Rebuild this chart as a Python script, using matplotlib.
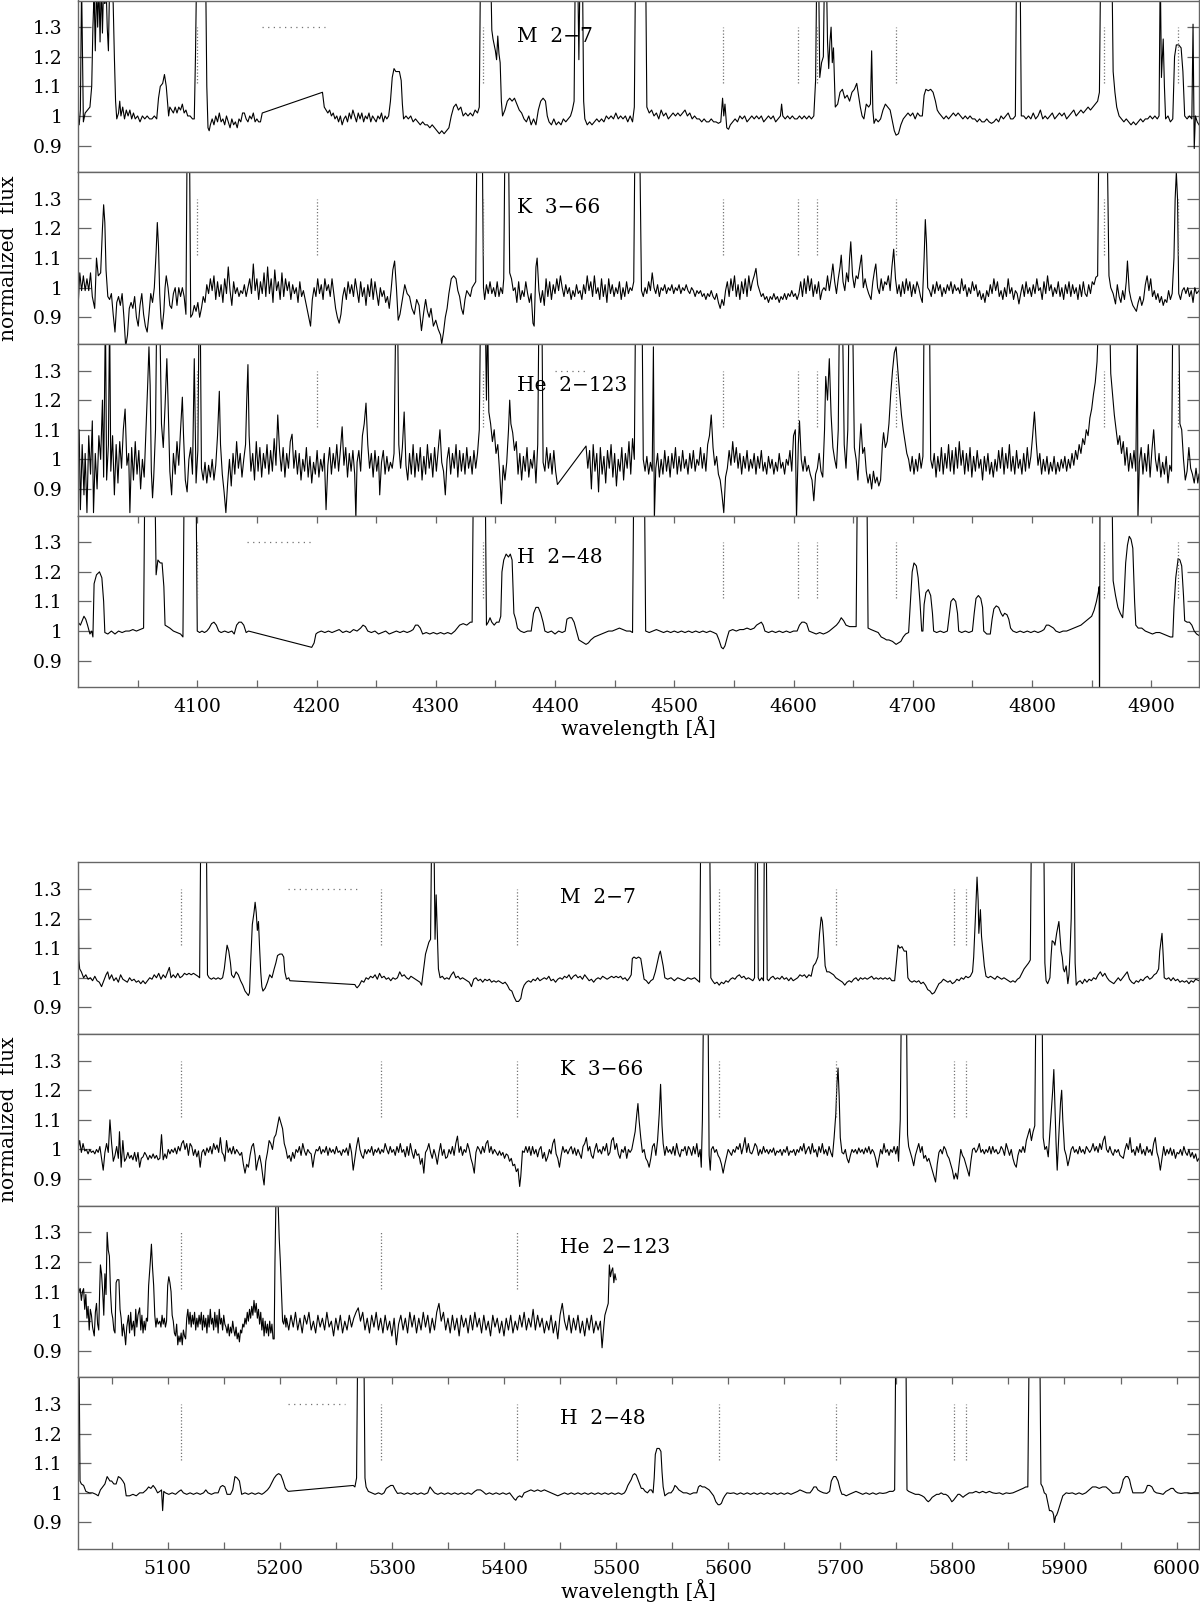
import numpy as np
import matplotlib
matplotlib.use('Agg')
import matplotlib.pyplot as plt
from matplotlib.ticker import FixedLocator, FuncFormatter

# ---- spectra: (wavelength [A], normalized flux) ----
# values of 1.5 stand for lines that run off the top of the panel

m27_blue = [(4000,1.00),(4001,0.97),(4002,1.02),(4003,1.45),(4004.5,0.98),(4006,1.01),(4008,1.02),(4010,1.03),(4011.5,1.10),(4012.5,1.30),(4013.5,1.42),(4014.5,1.22),(4015.5,1.45),(4016.5,1.30),(4017.5,1.45),(4018.5,1.25),(4019.5,1.45),(4020.5,1.28),(4021.5,1.45),(4022.5,1.38),(4023.5,1.45),(4024.5,1.30),(4025.5,1.22),(4026.5,1.45),(4028,1.45),(4029.5,1.38),(4030.5,1.20),(4031.5,1.05),(4032.5,0.99),(4034,1.01),(4035,1.05),(4036,1.00),(4037.5,1.03),(4039,0.99),(4040.5,1.02),(4042,1.00),(4043.5,1.02),(4045,0.99),(4046.5,1.01),(4048,0.99),(4050,1.00),(4052,0.98),(4054,1.00),(4056,0.99),(4058,1.00),(4060,0.99),(4062,0.99),(4064,1.00),(4066,0.99),(4067.5,1.06),(4069,1.10),(4071,1.11),(4072.5,1.14),(4074,1.10),(4075,1.05),(4076,1.00),(4077,1.03),(4078.5,1.02),(4080,1.01),(4081.5,1.03),(4083,1.01),(4084.5,1.03),(4086,1.02),(4087.5,1.04),(4089,1.01),(4090.5,1.02),(4092,1.00),(4094,1.00),(4096,0.99),(4097.5,0.99),(4098.5,1.20),(4099.5,1.50),(4107,1.50),(4108,1.10),(4109,0.96),(4110,0.95),(4111,0.97),(4112.5,0.99),(4114,0.97),(4115.5,1.00),(4117,0.98),(4118.5,1.01),(4120,0.98),(4121.5,0.99),(4123,0.97),(4124.5,1.00),(4126,0.98),(4127.5,0.96),(4129,0.99),(4130.5,0.97),(4132,0.98),(4133.5,0.96),(4135,0.99),(4136.5,0.98),(4138,1.01),(4139.5,1.01),(4141,0.99),(4142.5,0.98),(4144,1.00),(4145.5,0.99),(4147,1.01),(4148.5,0.98),(4150,0.99),(4151.5,0.98),(4153,0.98),(4154.5,1.01),(4205,1.08),(4206.5,1.03),(4208,1.02),(4209.5,1.01),(4211,1.02),(4212.5,1.00),(4214,1.01),(4215.5,0.99),(4217,1.00),(4218.5,0.98),(4220,1.00),(4221.5,0.97),(4223,0.99),(4224.5,1.00),(4226,0.98),(4227.5,1.01),(4229,0.99),(4230.5,1.02),(4232,1.00),(4233.5,0.98),(4235,1.01),(4236.5,0.99),(4238,1.01),(4239.5,0.98),(4241,1.00),(4242.5,0.99),(4244,1.01),(4245.5,0.98),(4247,1.00),(4248.5,0.99),(4250,0.98),(4251.5,1.00),(4253,0.99),(4254.5,1.01),(4256,0.98),(4257.5,1.00),(4259,0.99),(4260.5,1.00),(4262,1.05),(4263.5,1.13),(4265,1.16),(4266.5,1.15),(4268,1.15),(4269.5,1.15),(4271,1.12),(4272,1.04),(4273,0.99),(4275,1.00),(4277,0.99),(4279,1.00),(4281,0.98),(4283,0.99),(4285,0.98),(4287,0.97),(4289,0.98),(4291,0.97),(4293,0.97),(4295,0.96),(4297,0.97),(4299,0.96),(4301,0.95),(4303,0.94),(4305,0.95),(4307,0.94),(4309,0.95),(4311,0.96),(4313,1.00),(4315,1.03),(4317,1.04),(4319,1.02),(4321,1.03),(4323,1.00),(4325,1.01),(4327,1.00),(4329,1.01),(4331,1.00),(4333,1.02),(4335,1.01),(4336.5,1.03),(4337.5,1.50),(4346,1.50),(4347,1.29),(4348,1.26),(4349,1.24),(4350,1.22),(4351,1.19),(4352,1.27),(4353,1.21),(4354,1.18),(4355,1.05),(4356,1.00),(4358,1.02),(4360,1.05),(4362,1.06),(4364,1.05),(4366,1.06),(4368,1.04),(4370,1.02),(4372,1.01),(4374,0.99),(4376,0.98),(4378,1.00),(4380,0.97),(4382,0.99),(4384,0.97),(4386,1.02),(4388,1.05),(4390,1.06),(4392,1.05),(4393.5,1.00),(4395,0.98),(4397,0.97),(4399,0.99),(4401,0.97),(4403,0.98),(4405,0.97),(4407,0.99),(4409,0.98),(4411,0.99),(4413,1.00),(4414.5,1.02),(4416,1.05),(4417,1.50),(4419,1.50),(4420,1.19),(4421,1.50),(4423,1.50),(4424,1.05),(4425,0.99),(4427,0.97),(4429,0.98),(4431,0.97),(4433,0.98),(4435,0.99),(4437,0.98),(4439,0.99),(4441,0.98),(4443,1.00),(4445,0.99),(4447,1.00),(4449,0.99),(4451,1.01),(4453,0.99),(4455,1.00),(4457,0.99),(4459,1.00),(4461,0.98),(4463,1.00),(4465,0.98),(4466.5,1.03),(4467.5,1.50),(4476,1.50),(4477,1.03),(4479,1.01),(4481,1.02),(4483,1.00),(4485,1.01),(4487,0.99),(4489,1.02),(4491,1.00),(4493,1.01),(4495,0.99),(4497,1.00),(4499,1.01),(4501,1.00),(4503,1.01),(4505,1.00),(4507,1.01),(4509,1.02),(4511,1.00),(4513,1.01),(4515,0.99),(4517,1.00),(4519,0.99),(4521,0.99),(4523,0.98),(4525,0.99),(4527,0.98),(4529,0.98),(4531,0.99),(4533,0.98),(4535,0.98),(4537,0.975),(4539,0.98),(4540.5,1.06),(4541.5,1.00),(4542.5,1.04),(4544,0.96),(4545.5,0.955),(4547,0.97),(4549,0.98),(4551,0.99),(4553,0.98),(4555,1.00),(4557,0.99),(4559,1.00),(4561,0.98),(4563,0.99),(4565,1.00),(4567,0.99),(4569,1.00),(4571,0.99),(4573,1.00),(4575,0.98),(4577,0.99),(4579,1.00),(4581,0.99),(4583,1.00),(4585,0.98),(4587,0.99),(4589,1.00),(4590,1.04),(4591,1.00),(4593,0.99),(4595,1.00),(4597,0.99),(4599,1.00),(4601,0.99),(4603,0.99),(4605,1.00),(4607,0.99),(4609,1.00),(4611,0.99),(4613,1.00),(4615,0.99),(4617,1.00),(4618.5,1.12),(4619.5,1.50),(4621,1.50),(4622,1.13),(4623.5,1.18),(4625,1.20),(4626,1.50),(4627.5,1.50),(4628.5,1.25),(4629.5,1.16),(4630.5,1.25),(4631.5,1.30),(4632.5,1.18),(4633.5,1.23),(4635,1.03),(4637,1.04),(4639,1.08),(4641,1.09),(4643,1.06),(4645,1.07),(4647,1.05),(4649,1.08),(4651,1.09),(4653,1.11),(4654.5,1.07),(4656,1.03),(4657.5,1.00),(4659,0.99),(4661,1.04),(4663,1.03),(4664.5,1.04),(4665.5,1.22),(4666.5,1.02),(4667.5,0.975),(4669,0.99),(4671,0.98),(4673,0.99),(4675,1.02),(4677,1.04),(4679,1.03),(4681,1.02),(4683,0.98),(4684.5,0.95),(4686,0.935),(4688,0.94),(4690,0.97),(4692,0.99),(4694,1.00),(4696,1.01),(4698,1.00),(4700,1.01),(4702,0.99),(4704,1.01),(4706,1.00),(4708,1.00),(4709.5,1.07),(4711,1.09),(4713,1.085),(4715,1.09),(4717,1.08),(4719,1.05),(4720.5,1.02),(4722,1.01),(4724,1.00),(4726,0.99),(4728,1.00),(4730,0.99),(4732,1.00),(4734,1.01),(4736,1.00),(4738,1.01),(4740,1.00),(4742,0.99),(4744,1.00),(4746,0.99),(4748,1.00),(4750,0.99),(4752,0.99),(4754,0.98),(4756,0.99),(4758,0.98),(4760,0.98),(4762,0.99),(4764,0.98),(4766,0.975),(4768,0.98),(4770,0.99),(4772,0.98),(4774,1.00),(4776,0.99),(4778,1.00),(4780,1.01),(4782,0.99),(4784,0.99),(4786,1.00),(4787,1.50),(4790,1.50),(4791,1.00),(4793,1.00),(4795,0.99),(4797,1.00),(4799,0.99),(4801,1.01),(4803,0.99),(4805,1.00),(4807,1.02),(4809,0.99),(4811,1.00),(4813,0.99),(4815,1.00),(4817,1.01),(4819,0.99),(4821,1.00),(4823,1.01),(4825,1.00),(4827,1.01),(4829,0.99),(4831,1.00),(4833,1.01),(4835,1.02),(4837,1.00),(4839,1.01),(4841,1.02),(4843,1.01),(4845,1.02),(4847,1.03),(4849,1.02),(4851,1.03),(4853,1.04),(4855,1.05),(4856.5,1.08),(4857.5,1.50),(4867,1.50),(4868,1.15),(4869.5,1.08),(4871,1.03),(4873,1.00),(4875,0.99),(4877,0.98),(4879,0.99),(4881,0.98),(4883,0.97),(4885,0.98),(4887,0.97),(4889,0.98),(4891,0.99),(4893,0.98),(4895,0.99),(4897,0.99),(4899,1.00),(4901,0.99),(4903,1.00),(4905,0.99),(4906.5,1.00),(4907.5,1.50),(4908.5,1.13),(4910,1.26),(4911,1.10),(4912,0.99),(4914,1.00),(4916,0.98),(4918,0.99),(4919.5,1.20),(4921,1.24),(4923,1.24),(4925,1.23),(4926.5,1.15),(4928,1.00),(4930,0.99),(4932,1.00),(4934,0.99),(4935,1.31),(4936,0.89),(4937,1.00),(4938.5,0.98),(4940,0.97)]

k366_blue = [(4000,0.93),(4001.5,1.05),(4003,0.99),(4004.5,1.04),(4006,0.99),(4007.5,1.03),(4009,0.99),(4010.5,1.05),(4012,0.97),(4014,0.93),(4015.5,1.10),(4017,1.04),(4019,1.05),(4020.5,1.20),(4021.5,1.28),(4022.5,1.22),(4023.5,1.06),(4025,0.97),(4026.5,0.96),(4028,0.98),(4029.5,0.91),(4031,0.85),(4032.5,0.95),(4034,0.97),(4035.5,0.94),(4037,0.98),(4038.5,0.90),(4040,0.80),(4041.5,0.84),(4043,0.93),(4044.5,0.95),(4046,0.93),(4047.5,0.97),(4049,0.90),(4050.5,0.87),(4052,0.94),(4053.5,0.98),(4055,0.91),(4056.5,0.87),(4058,0.85),(4059.5,0.91),(4061,0.98),(4062.5,0.95),(4064,1.00),(4065.5,1.12),(4066.5,1.22),(4067.5,1.14),(4068.5,0.98),(4069.5,0.90),(4070.5,0.86),(4072,0.92),(4073,1.00),(4074,1.04),(4075.5,1.00),(4077,0.94),(4078.5,0.93),(4080,0.98),(4081.5,1.00),(4083,0.94),(4084.5,1.00),(4086,0.97),(4087.5,1.00),(4089,0.97),(4090.5,0.91),(4091.5,1.50),(4093.5,1.50),(4094.5,0.90),(4096,0.91),(4097.5,0.94),(4099,0.92),(4100.5,0.95),(4102,0.90),(4103.5,0.93),(4105,0.97),(4106.5,0.95),(4108,1.01),(4109.5,0.98),(4111,1.03),(4112.5,0.99),(4114,1.04),(4115.5,0.96),(4117,1.02),(4118.5,0.97),(4120,1.01),(4121.5,0.95),(4123,1.03),(4124.5,0.98),(4126,1.07),(4127.5,0.99),(4129,0.94),(4130.5,1.02),(4132,0.98),(4133.5,1.00),(4135,0.97),(4136.5,0.99),(4138,0.98),(4139.5,1.01),(4141,0.97),(4142.5,1.00),(4144,1.03),(4145.5,0.98),(4147,1.08),(4148.5,0.99),(4150,1.03),(4151.5,0.96),(4153,1.02),(4154.5,0.98),(4156,1.05),(4157.5,0.97),(4159,1.07),(4160.5,0.98),(4162,1.03),(4163.5,0.95),(4165,1.06),(4166.5,0.99),(4168,1.02),(4169.5,0.96),(4171,1.05),(4172.5,0.97),(4174,1.03),(4175.5,0.99),(4177,1.02),(4178.5,0.96),(4180,1.01),(4181.5,0.98),(4183,1.00),(4184.5,0.95),(4186,1.02),(4187.5,0.97),(4189,0.99),(4190.5,0.96),(4192,0.93),(4193.5,0.90),(4195,0.87),(4196.5,0.96),(4198,1.00),(4199.5,0.97),(4201,1.03),(4202.5,0.98),(4204,1.01),(4205.5,0.96),(4207,1.03),(4208.5,0.99),(4210,1.01),(4211.5,0.97),(4213,1.03),(4214.5,0.98),(4216,0.93),(4217.5,0.90),(4219,0.88),(4220.5,0.91),(4222,0.97),(4223.5,1.00),(4225,0.96),(4226.5,1.02),(4228,0.98),(4229.5,1.01),(4231,0.97),(4232.5,1.03),(4234,0.99),(4235.5,0.95),(4237,1.02),(4238.5,0.97),(4240,1.00),(4241.5,0.94),(4243,1.01),(4244.5,0.97),(4246,1.03),(4247.5,0.96),(4249,1.02),(4250.5,0.98),(4252,0.94),(4253.5,1.00),(4255,0.97),(4256.5,0.99),(4258,0.95),(4259.5,0.97),(4261,0.93),(4262.5,0.99),(4264,1.06),(4265.5,1.09),(4267,1.00),(4268.5,0.89),(4270,0.91),(4272,0.96),(4274,1.01),(4276,0.98),(4278,0.97),(4280,0.93),(4282,0.91),(4284,0.96),(4286,0.94),(4288,0.855),(4290,0.92),(4291.5,0.96),(4293,0.92),(4294.5,0.90),(4296,0.93),(4298,0.87),(4300,0.89),(4302,0.86),(4304,0.84),(4305,0.81),(4306.5,0.85),(4308,0.90),(4309.5,0.93),(4311,0.98),(4313,1.03),(4315,1.04),(4317,1.03),(4318.5,0.99),(4320,0.97),(4321.5,0.93),(4323,0.91),(4324.5,0.96),(4326,0.99),(4327.5,0.98),(4329,0.97),(4330.5,1.00),(4332,1.01),(4333.5,1.02),(4334.5,1.50),(4339,1.50),(4340,1.00),(4341,0.96),(4342.5,1.01),(4344,0.98),(4345.5,1.02),(4347,0.98),(4348.5,1.00),(4350,0.97),(4351.5,1.02),(4353,0.97),(4354.5,1.00),(4356,0.98),(4357,1.03),(4358,1.50),(4361,1.50),(4362,1.05),(4363.5,1.03),(4365,0.99),(4366.5,1.00),(4368,0.95),(4369.5,1.02),(4371,0.96),(4372.5,0.99),(4374,0.97),(4375.5,1.02),(4377,0.98),(4378.5,0.95),(4380,0.98),(4381.5,0.88),(4382.5,0.87),(4384,1.07),(4385,1.10),(4386.5,0.99),(4388,0.95),(4389.5,0.99),(4391,0.94),(4392.5,1.03),(4394,0.97),(4395.5,1.02),(4397,0.96),(4398.5,1.01),(4400,0.98),(4401.5,1.03),(4403,0.99),(4404.5,1.04),(4406,1.00),(4407.5,0.97),(4409,1.01),(4410.5,0.98),(4412,1.00),(4413.5,0.96),(4415,0.99),(4416.5,0.97),(4418,1.01),(4419.5,0.98),(4421,0.99),(4422.5,0.96),(4424,1.01),(4425.5,0.98),(4427,1.04),(4428.5,0.99),(4430,1.02),(4431.5,0.97),(4433,1.04),(4434.5,0.98),(4436,1.00),(4437.5,0.96),(4439,1.03),(4440.5,0.97),(4442,1.01),(4443.5,0.95),(4445,1.03),(4446.5,0.98),(4448,1.01),(4449.5,0.97),(4451,1.00),(4452.5,0.98),(4454,1.02),(4455.5,0.96),(4457,1.00),(4458.5,0.97),(4460,1.02),(4461.5,0.98),(4463,1.00),(4464.5,0.99),(4466,1.02),(4467,1.50),(4471,1.50),(4472.5,0.99),(4474,0.97),(4475.5,1.00),(4477,0.98),(4478.5,1.02),(4480,0.99),(4481.5,1.05),(4483,1.00),(4484.5,0.98),(4486,1.01),(4487.5,0.97),(4489,1.00),(4490.5,0.99),(4492,1.01),(4493.5,0.98),(4495,1.00),(4496.5,0.99),(4498,1.01),(4499.5,0.98),(4501,1.00),(4502.5,0.99),(4504,1.01),(4505.5,0.98),(4507,1.00),(4508.5,0.99),(4510,1.01),(4511.5,0.99),(4513,0.98),(4514.5,1.00),(4516,0.99),(4517.5,0.97),(4519,0.99),(4520.5,0.98),(4522,0.99),(4523.5,0.97),(4525,0.98),(4526.5,0.96),(4528,0.98),(4529.5,0.97),(4531,0.99),(4532.5,0.97),(4534,0.96),(4535.5,0.98),(4537,0.95),(4538.5,0.93),(4540,0.96),(4541.5,0.94),(4543,0.99),(4544.5,1.02),(4546,0.97),(4547.5,1.03),(4549,0.99),(4550.5,1.04),(4552,0.97),(4553.5,1.01),(4555,0.96),(4556.5,1.02),(4558,0.98),(4559.5,1.03),(4561,0.97),(4562.5,1.04),(4564,0.99),(4565.5,1.02),(4567,1.04),(4568.5,1.065),(4570,1.01),(4571.5,0.99),(4573,0.97),(4574.5,0.98),(4576,0.96),(4577.5,0.97),(4579,0.95),(4580.5,0.97),(4582,0.96),(4583.5,0.98),(4585,0.96),(4586.5,0.97),(4588,0.95),(4589.5,0.97),(4591,0.96),(4592.5,0.98),(4594,0.96),(4595.5,0.98),(4597,0.97),(4598.5,0.99),(4600,0.97),(4601.5,0.98),(4603,0.96),(4604.5,0.98),(4606,1.02),(4607.5,0.97),(4609,1.03),(4610.5,0.98),(4612,1.04),(4613.5,0.99),(4615,1.03),(4616.5,0.97),(4618,1.01),(4619.5,0.98),(4621,1.02),(4622.5,0.96),(4624,0.99),(4625.5,1.00),(4627,0.99),(4628.5,1.04),(4630,0.99),(4631.5,1.03),(4633,1.08),(4634.5,1.02),(4636,0.98),(4637.5,1.03),(4639,1.07),(4640,1.11),(4641.5,1.02),(4643,0.99),(4644.5,1.05),(4646,1.02),(4647,1.10),(4648,1.155),(4649.5,1.04),(4651,1.00),(4652.5,1.04),(4654,1.03),(4655.5,1.07),(4657,1.11),(4658.5,1.00),(4660,1.03),(4661.5,1.00),(4663,0.98),(4665,0.96),(4666.5,1.02),(4668,1.06),(4669,1.08),(4670.5,1.00),(4672,0.98),(4673.5,1.03),(4675,0.99),(4676.5,1.02),(4678,1.01),(4679.5,1.04),(4681,0.99),(4682.5,1.07),(4684,1.13),(4685.5,1.03),(4687,0.98),(4688.5,1.01),(4690,0.97),(4691.5,1.02),(4693,0.98),(4694.5,1.03),(4696,0.99),(4697.5,1.02),(4699,0.97),(4700.5,1.01),(4702,0.98),(4703.5,1.02),(4705,1.00),(4706.5,0.97),(4708,0.95),(4709.5,1.10),(4710.5,1.23),(4711.5,1.15),(4712.5,1.00),(4714,0.99),(4715.5,0.97),(4717,1.01),(4718.5,0.98),(4720,1.02),(4721.5,0.99),(4723,1.01),(4724.5,0.97),(4726,1.00),(4727.5,0.98),(4729,1.01),(4730.5,0.99),(4732,1.02),(4733.5,0.98),(4735,1.01),(4736.5,0.99),(4738,1.00),(4739.5,0.98),(4741,1.03),(4742.5,0.99),(4744,1.01),(4745.5,0.97),(4747,1.00),(4748.5,0.98),(4750,1.02),(4751.5,0.99),(4753,1.01),(4754.5,0.97),(4756,0.99),(4757.5,0.96),(4759,0.98),(4760.5,0.95),(4762,0.99),(4763.5,0.97),(4765,1.01),(4766.5,0.98),(4768,1.03),(4769.5,0.99),(4771,1.02),(4772.5,0.97),(4774,0.99),(4775.5,0.96),(4777,1.00),(4778.5,0.97),(4780,1.03),(4781.5,0.98),(4783,1.00),(4784.5,0.96),(4786,0.99),(4787.5,0.98),(4789,0.945),(4790.5,0.98),(4792,1.01),(4793.5,0.97),(4795,1.02),(4796.5,0.98),(4798,1.00),(4799.5,0.97),(4801,1.01),(4802.5,0.98),(4804,1.03),(4805.5,0.99),(4807,1.00),(4808.5,0.96),(4810,1.02),(4811.5,0.98),(4813,1.04),(4814.5,0.99),(4816,1.01),(4817.5,0.97),(4819,1.00),(4820.5,0.98),(4822,1.02),(4823.5,0.97),(4825,1.00),(4826.5,0.96),(4828,1.01),(4829.5,0.98),(4831,1.02),(4832.5,0.97),(4834,1.01),(4835.5,0.98),(4837,1.00),(4838.5,0.96),(4840,1.01),(4841.5,0.97),(4843,1.02),(4844.5,0.98),(4846,0.97),(4847.5,1.01),(4849,0.98),(4850.5,1.02),(4852,1.01),(4853.5,1.035),(4855,1.04),(4856,1.50),(4863,1.50),(4864.5,1.04),(4866,1.00),(4868,0.98),(4870,0.945),(4871.5,1.01),(4873,0.97),(4874.5,0.95),(4876,0.99),(4877.5,0.96),(4879,1.02),(4880,1.09),(4881.5,0.99),(4883,0.96),(4884.5,0.94),(4886,0.93),(4887.5,0.92),(4889,0.95),(4890.5,0.97),(4892,0.94),(4893.5,0.96),(4895,1.01),(4896.5,1.04),(4898,0.99),(4899.5,1.03),(4901,0.97),(4902.5,0.99),(4904,0.96),(4905.5,0.98),(4907,0.95),(4908.5,0.97),(4910,0.94),(4911.5,0.96),(4913,0.95),(4914.5,0.99),(4916,0.96),(4917.5,0.98),(4919,1.10),(4920,1.30),(4921,1.39),(4922,1.30),(4923,0.98),(4924.5,0.96),(4926,0.99),(4927.5,1.00),(4929,0.98),(4930.5,1.00),(4932,0.97),(4933.5,0.99),(4935,0.95),(4936.5,1.00),(4938,0.98),(4940,0.99)]

he2123_blue = [(4000,0.95),(4001,1.10),(4002,0.83),(4003.5,1.05),(4005,0.88),(4006,1.02),(4007.5,0.82),(4009,1.08),(4010.5,0.95),(4012,1.13),(4013,0.82),(4014.5,1.02),(4016,0.90),(4017.5,1.08),(4019,1.00),(4020.5,1.20),(4021.5,0.94),(4023,1.50),(4024,0.93),(4025.5,1.05),(4026.5,1.50),(4027.5,0.96),(4029,1.08),(4030.5,0.88),(4032,1.05),(4033.5,0.92),(4035,1.06),(4036.5,0.97),(4038,1.10),(4039.5,1.17),(4041,0.98),(4042.5,1.02),(4043.5,0.82),(4045,1.04),(4046.5,0.93),(4048,1.06),(4049.5,0.95),(4051,1.03),(4052.5,0.90),(4054,1.00),(4055.5,0.94),(4057,1.10),(4058.5,1.26),(4059.5,1.38),(4060.5,1.25),(4061.5,0.96),(4062.5,0.87),(4063.5,0.94),(4065,1.10),(4066,1.50),(4068.5,1.50),(4070,1.12),(4071.5,1.04),(4073,1.18),(4074.5,1.34),(4075.5,1.20),(4077,0.96),(4078.5,0.88),(4080,1.02),(4081.5,0.95),(4083,1.06),(4084.5,0.98),(4086,1.10),(4087.5,1.21),(4088.5,1.08),(4090,0.93),(4091.5,0.89),(4093,1.00),(4094.5,1.04),(4096,0.95),(4097.5,1.34),(4099,0.92),(4100.5,1.03),(4101.5,1.50),(4102.5,1.50),(4103.5,0.97),(4105,0.93),(4106.5,0.99),(4108,0.92),(4109.5,0.98),(4111,0.94),(4112.5,1.00),(4114,0.93),(4115.5,0.98),(4117,1.08),(4118.5,1.23),(4119.5,1.05),(4121,0.95),(4122.5,0.89),(4124,0.82),(4125.5,0.92),(4127,1.00),(4128.5,0.91),(4130,1.02),(4131.5,0.95),(4133,1.06),(4134.5,0.97),(4136,1.02),(4137.5,0.94),(4139,1.00),(4140.5,1.05),(4141.5,1.20),(4142.5,1.32),(4143.5,1.08),(4145,0.96),(4146.5,1.02),(4148,0.93),(4149.5,1.06),(4151,0.96),(4152.5,1.04),(4154,0.94),(4155.5,1.02),(4157,0.97),(4158.5,1.05),(4160,0.95),(4161.5,1.03),(4163,0.96),(4164.5,1.07),(4166,0.98),(4167.5,1.15),(4169,1.03),(4170.5,0.96),(4172,1.04),(4173.5,0.94),(4175,1.02),(4176.5,0.97),(4178,1.06),(4179.5,1.085),(4181,0.97),(4182.5,1.03),(4184,0.95),(4185.5,1.02),(4187,0.93),(4188.5,1.00),(4190,0.96),(4191.5,1.04),(4193,0.94),(4194.5,1.01),(4196,0.92),(4197.5,0.99),(4199,0.95),(4200.5,1.03),(4202,0.94),(4203.5,1.00),(4205,0.96),(4206.5,1.02),(4208,0.83),(4209.5,0.98),(4211,1.04),(4212.5,0.95),(4214,1.02),(4215.5,0.97),(4217,1.05),(4218.5,0.96),(4220,1.03),(4221.5,1.11),(4223,0.98),(4224.5,1.04),(4226,0.94),(4227.5,1.02),(4229,0.96),(4230.5,1.03),(4232,0.95),(4233,0.80),(4234,0.99),(4235.5,1.03),(4237,0.96),(4238.5,1.08),(4240,1.12),(4241.5,1.19),(4243,1.05),(4244.5,0.97),(4246,1.02),(4247.5,0.94),(4249,1.03),(4250.5,0.96),(4252,1.01),(4253,0.88),(4254.5,0.99),(4256,1.03),(4257.5,0.95),(4259,1.01),(4260.5,0.96),(4262,0.99),(4263.5,0.97),(4265,1.02),(4266.5,1.50),(4268,1.50),(4269,1.05),(4270.5,0.97),(4272,1.04),(4273.5,1.16),(4275,0.98),(4276.5,0.93),(4278,1.02),(4279.5,0.95),(4281,1.05),(4282.5,0.94),(4284,1.02),(4285.5,0.96),(4287,1.04),(4288.5,0.93),(4290,1.01),(4291.5,0.95),(4293,1.05),(4294.5,0.97),(4296,1.02),(4297.5,0.94),(4299,1.04),(4300.5,0.96),(4302,1.03),(4303.5,1.10),(4305,0.99),(4306.5,0.96),(4308,0.88),(4309.5,1.00),(4311,1.04),(4312.5,0.95),(4314,1.02),(4315.5,0.97),(4317,1.05),(4318.5,0.94),(4320,1.03),(4321.5,0.96),(4323,1.02),(4324.5,0.95),(4326,1.04),(4327.5,0.97),(4329,1.01),(4330.5,0.95),(4332,1.03),(4333.5,0.97),(4335,1.02),(4336.5,1.10),(4337.5,1.50),(4341.5,1.50),(4342.5,1.20),(4343.5,1.50),(4344.5,1.16),(4346,1.12),(4347.5,1.06),(4349,1.10),(4350.5,1.02),(4352,1.05),(4353.5,0.96),(4355,0.85),(4356.5,0.98),(4358,0.93),(4359.5,0.99),(4361,1.10),(4362,1.20),(4363,1.12),(4364.5,1.09),(4366,1.03),(4367.5,1.06),(4369,0.95),(4370.5,1.02),(4372,0.93),(4373.5,1.01),(4375,0.96),(4376.5,1.04),(4378,0.94),(4379.5,1.00),(4381,0.97),(4382.5,1.03),(4384,0.92),(4385.5,1.05),(4386.5,1.50),(4389,1.50),(4390,0.99),(4391.5,0.96),(4393,1.04),(4394.5,0.97),(4396,1.02),(4397.5,0.95),(4399,1.03),(4400.5,0.96),(4402,0.915),(4426,1.045),(4427.5,0.97),(4429,1.03),(4430.5,0.90),(4432,1.05),(4433.5,0.96),(4435,1.02),(4436.5,0.89),(4438,1.04),(4439.5,0.95),(4441,1.01),(4442.5,0.92),(4444,1.03),(4445.5,0.97),(4447,1.05),(4448.5,0.94),(4450,1.02),(4451.5,0.91),(4453,1.00),(4454.5,0.96),(4456,1.04),(4457.5,0.93),(4459,1.02),(4460.5,0.97),(4462,1.06),(4463.5,0.95),(4465,1.07),(4466.5,1.00),(4467.5,1.50),(4473,1.50),(4474,1.00),(4475.5,0.96),(4477,1.01),(4478.5,0.95),(4480,0.99),(4481.5,0.96),(4482.5,1.38),(4483.3,0.80),(4484.5,0.97),(4486,1.02),(4487.5,0.94),(4489,1.00),(4490.5,0.95),(4492,1.03),(4493.5,0.96),(4495,1.01),(4496.5,0.94),(4498,1.02),(4499.5,0.97),(4501,1.04),(4502.5,0.95),(4504,1.01),(4505.5,0.96),(4507,1.03),(4508.5,0.97),(4510,1.00),(4511.5,0.95),(4513,1.02),(4514.5,0.97),(4516,1.03),(4517.5,0.96),(4519,1.00),(4520.5,0.98),(4522,1.04),(4523.5,0.97),(4525,1.02),(4526.5,0.96),(4528,1.05),(4529.5,1.08),(4531,1.15),(4532.5,1.04),(4534,0.98),(4535.5,1.01),(4537,0.95),(4538.5,0.93),(4540,0.88),(4541.5,0.82),(4543,0.94),(4544.5,0.97),(4546,1.03),(4547.5,0.98),(4549,1.06),(4550.5,0.99),(4552,1.04),(4553.5,0.97),(4555,1.02),(4556.5,0.95),(4558,1.01),(4559.5,0.97),(4561,1.03),(4562.5,0.96),(4564,1.00),(4565.5,0.97),(4567,1.02),(4568.5,0.95),(4570,1.01),(4571.5,0.97),(4573,1.03),(4574.5,0.96),(4576,0.99),(4577.5,0.95),(4579,1.01),(4580.5,0.97),(4582,1.00),(4583.5,0.95),(4585,0.99),(4586.5,0.96),(4588,1.02),(4589.5,0.97),(4591,0.99),(4592.5,0.95),(4594,1.00),(4595.5,0.98),(4597,1.03),(4598.5,0.96),(4600,1.08),(4601.5,1.10),(4602.5,0.80),(4604,1.05),(4605,1.13),(4606.5,1.00),(4608,0.96),(4609.5,1.01),(4611,0.96),(4612.5,0.98),(4614,0.95),(4615.5,0.93),(4617,0.86),(4618.5,0.95),(4620,0.97),(4621.5,1.02),(4623,0.96),(4624.5,0.94),(4626,1.10),(4627,1.28),(4628.5,1.20),(4630,1.34),(4631.5,1.15),(4633,1.04),(4634.5,1.00),(4636,0.97),(4637.5,1.10),(4638.5,1.50),(4641,1.50),(4642.5,1.05),(4644,0.97),(4645.5,1.10),(4646.5,1.50),(4649.5,1.50),(4651,1.04),(4652.5,1.00),(4654,0.93),(4655.5,1.05),(4656.5,1.12),(4658,1.02),(4659.5,1.04),(4661,0.96),(4662.5,0.92),(4664,0.95),(4665.5,0.90),(4667,0.96),(4668.5,0.92),(4670,0.94),(4671.5,0.91),(4673,0.93),(4674.5,1.05),(4675.5,1.09),(4677,1.04),(4678.5,1.06),(4680,1.12),(4681.5,1.22),(4683,1.30),(4684.5,1.36),(4686,1.38),(4687.5,1.30),(4689,1.22),(4690.5,1.15),(4692,1.10),(4693.5,1.06),(4695,1.02),(4696.5,1.00),(4698,0.96),(4699.5,1.01),(4701,0.95),(4702.5,1.00),(4704,0.96),(4705.5,1.02),(4707,0.97),(4708.5,1.01),(4709.5,1.50),(4714,1.50),(4715,1.00),(4716.5,0.97),(4718,1.02),(4719.5,0.94),(4721,1.01),(4722.5,0.96),(4724,1.04),(4725.5,0.95),(4727,1.02),(4728.5,0.97),(4730,1.05),(4731.5,0.96),(4733,1.03),(4734.5,0.95),(4736,1.04),(4737.5,0.97),(4739,1.06),(4740.5,0.98),(4742,1.03),(4743.5,0.95),(4745,1.02),(4746.5,0.96),(4748,1.04),(4749.5,0.94),(4751,1.01),(4752.5,0.96),(4754,1.03),(4755.5,0.97),(4757,1.00),(4758.5,0.93),(4760,1.01),(4761.5,0.96),(4763,1.02),(4764.5,0.95),(4766,0.99),(4767.5,0.94),(4769,1.00),(4770.5,0.96),(4772,1.03),(4773.5,0.97),(4775,1.04),(4776.5,0.95),(4778,1.02),(4779.5,0.97),(4781,1.05),(4782.5,0.96),(4784,1.01),(4785.5,0.95),(4787,1.03),(4788.5,0.97),(4790,1.00),(4791.5,0.95),(4793,1.02),(4794.5,0.96),(4796,1.04),(4797.5,0.97),(4799,1.01),(4800.5,1.08),(4802,1.16),(4803.5,1.06),(4805,0.98),(4806.5,1.02),(4808,0.95),(4809.5,1.00),(4811,0.96),(4812.5,1.01),(4814,0.95),(4815.5,0.99),(4817,0.96),(4818.5,1.01),(4820,0.95),(4821.5,0.99),(4823,0.96),(4824.5,1.00),(4826,0.97),(4827.5,1.01),(4829,0.96),(4830.5,1.00),(4832,0.97),(4833.5,1.02),(4835,0.98),(4836.5,1.03),(4838,1.00),(4839.5,1.05),(4841,1.02),(4842.5,1.07),(4844,1.05),(4845.5,1.10),(4847,1.08),(4848.5,1.14),(4850,1.17),(4851.5,1.22),(4853,1.26),(4854.5,1.33),(4856,1.50),(4865,1.50),(4866,1.29),(4867.5,1.22),(4869,1.15),(4870.5,1.10),(4872,1.05),(4873.5,1.08),(4875,1.02),(4876.5,1.06),(4878,0.98),(4879.5,1.04),(4881,0.96),(4882.5,1.02),(4884,0.97),(4885.5,1.03),(4887,0.96),(4888.3,1.45),(4888.8,0.80),(4890,0.99),(4891.5,1.04),(4893,0.95),(4894.5,1.02),(4896,0.96),(4897.5,1.05),(4899,0.94),(4900.5,1.03),(4902,1.10),(4903.5,1.00),(4905,0.96),(4906.5,1.02),(4908,0.94),(4909.5,0.99),(4911,0.95),(4912.5,1.01),(4914,0.92),(4915.5,0.98),(4917,0.96),(4918,1.50),(4923,1.50),(4924,1.12),(4925.5,1.10),(4927,1.00),(4928.5,0.93),(4930,0.96),(4931.5,1.04),(4933,0.97),(4934.5,0.95),(4936,0.92),(4937.5,0.97),(4939,0.92),(4940,0.95)]

h248_blue = [(4000,1.03),(4002,1.02),(4004,1.04),(4005,1.05),(4006.5,1.04),(4008,1.02),(4010,0.99),(4011.5,1.00),(4012.5,0.98),(4013.5,1.16),(4015.5,1.19),(4018,1.20),(4020,1.18),(4021.5,1.10),(4022.5,0.995),(4025,0.99),(4028,1.00),(4031,0.99),(4034,1.00),(4037,0.995),(4040,1.00),(4043,1.00),(4046,1.005),(4049,1.00),(4052,1.005),(4055,1.01),(4056,1.50),(4064.5,1.50),(4065.5,1.19),(4067,1.24),(4069,1.23),(4070.5,1.23),(4072,1.15),(4073,1.02),(4075,1.015),(4077,1.01),(4080,1.00),(4083,0.995),(4086,0.99),(4088,0.98),(4089,1.50),(4099,1.50),(4100,1.00),(4102,0.995),(4104,1.00),(4106,0.995),(4108,1.00),(4110,1.01),(4112,1.025),(4114,1.03),(4116,1.02),(4118,1.00),(4120,0.995),(4123,1.00),(4126,0.995),(4129,1.00),(4131,0.99),(4133,1.02),(4135,1.03),(4137,1.03),(4139,1.02),(4141,0.995),(4143,1.00),(4196,0.945),(4198,0.96),(4199.5,0.99),(4201,0.995),(4204,1.00),(4207,0.995),(4210,1.00),(4213,0.995),(4216,1.00),(4219,1.005),(4222,0.995),(4225,1.00),(4228,0.995),(4231,1.005),(4234,1.00),(4237,1.01),(4239,1.02),(4241,1.015),(4243,1.00),(4246,0.995),(4249,1.00),(4252,0.99),(4255,0.995),(4258,1.00),(4261,0.99),(4264,0.995),(4267,1.00),(4270,0.995),(4273,1.00),(4276,0.995),(4279,1.00),(4281,1.005),(4283,1.02),(4285,1.02),(4287,1.01),(4289,0.99),(4292,0.995),(4295,0.99),(4298,0.995),(4301,0.99),(4304,0.995),(4307,0.99),(4310,0.995),(4313,0.99),(4316,1.00),(4318,1.01),(4320,1.02),(4323,1.025),(4326,1.02),(4329,1.03),(4330.5,1.03),(4331.5,1.50),(4341.5,1.50),(4342.5,1.02),(4344,1.03),(4345.5,1.045),(4347,1.03),(4349,1.02),(4351,1.03),(4353,1.03),(4354.5,1.05),(4355.5,1.20),(4357,1.24),(4359,1.26),(4361,1.25),(4362.5,1.26),(4364,1.24),(4365.5,1.06),(4367,1.04),(4368.5,1.01),(4371,1.00),(4374,0.995),(4377,1.00),(4380,1.00),(4382,1.06),(4384,1.08),(4386,1.08),(4388,1.06),(4390,1.03),(4391.5,1.00),(4394,0.995),(4397,1.00),(4400,0.99),(4403,1.00),(4406,0.995),(4408.5,1.00),(4410,1.04),(4412,1.045),(4414,1.045),(4416,1.03),(4418,1.00),(4420,0.97),(4422,0.965),(4424,0.96),(4426,0.955),(4428,0.96),(4430,0.97),(4433,0.98),(4436,0.985),(4439,0.99),(4442,0.995),(4445,1.00),(4448,1.00),(4451,1.005),(4454,1.01),(4457,1.005),(4460,1.00),(4463,1.00),(4465,0.995),(4466,1.50),(4475,1.50),(4476,1.00),(4479,0.995),(4482,1.00),(4485,1.005),(4488,1.00),(4491,0.995),(4494,1.00),(4497,0.995),(4500,1.00),(4503,0.995),(4506,1.00),(4509,0.995),(4512,1.00),(4515,0.995),(4518,1.00),(4521,0.995),(4524,1.00),(4527,0.995),(4530,1.00),(4533,0.995),(4535.5,0.99),(4537.5,0.97),(4539.5,0.945),(4541,0.94),(4542.5,0.95),(4544.5,0.98),(4546,1.00),(4549,1.005),(4552,1.00),(4555,1.005),(4558,1.005),(4561,1.01),(4564,1.005),(4567,1.01),(4569,1.02),(4571,1.025),(4573,1.03),(4574.5,1.02),(4576,1.00),(4579,0.995),(4582,1.00),(4585,0.995),(4588,1.00),(4591,0.995),(4594,1.00),(4597,0.995),(4600,1.00),(4603,1.00),(4605,1.02),(4607,1.03),(4609,1.03),(4611,1.025),(4613,1.00),(4616,0.995),(4619,0.99),(4622,0.995),(4625,0.99),(4628,0.995),(4630,1.00),(4633,1.01),(4636,1.02),(4638,1.03),(4640,1.045),(4642,1.035),(4644,1.02),(4647,1.015),(4650,1.015),(4652.5,1.015),(4653.5,1.50),(4661.5,1.50),(4662.5,1.01),(4665,1.005),(4668,1.00),(4671,0.995),(4673.5,0.98),(4676,0.975),(4678,0.97),(4680,0.97),(4683,0.965),(4686,0.955),(4688,0.96),(4690,0.965),(4692,0.98),(4694,0.99),(4696.5,0.995),(4698,1.10),(4699.5,1.20),(4701,1.23),(4703,1.22),(4704.5,1.18),(4706,1.10),(4707.5,1.00),(4708.5,1.00),(4709.5,1.09),(4711,1.13),(4713,1.14),(4715,1.12),(4716.5,1.06),(4717.5,1.00),(4720,0.995),(4723,1.00),(4726,0.995),(4729,1.00),(4730.5,1.05),(4732,1.10),(4734,1.11),(4736,1.10),(4737.5,1.06),(4738.5,1.00),(4741,0.995),(4744,1.00),(4747,0.995),(4750,1.00),(4751.5,1.06),(4753,1.11),(4755,1.12),(4757,1.11),(4758.5,1.08),(4759.5,1.00),(4762,0.99),(4765,0.99),(4766.5,1.04),(4768,1.075),(4770,1.085),(4772,1.08),(4774,1.06),(4775.5,1.05),(4777,1.06),(4779,1.055),(4780.5,1.04),(4782,1.01),(4784,1.00),(4787,0.995),(4790,1.00),(4793,0.995),(4796,1.00),(4799,0.995),(4802,1.00),(4805,0.995),(4808,1.00),(4810,1.005),(4812,1.02),(4814,1.02),(4816,1.015),(4818,1.01),(4820,1.00),(4823,0.995),(4826,1.00),(4829,1.00),(4832,1.005),(4835,1.01),(4838,1.015),(4841,1.02),(4844,1.03),(4847,1.04),(4850,1.05),(4852,1.07),(4854,1.10),(4855.5,1.13),(4856.3,1.15),(4856.6,0.70),(4857,1.50),(4867,1.50),(4868,1.17),(4870,1.12),(4872,1.08),(4874,1.06),(4876,1.045),(4877,1.10),(4878.5,1.23),(4880,1.29),(4881.5,1.32),(4883,1.31),(4884.5,1.28),(4886,1.10),(4887,1.02),(4889,1.01),(4892,1.01),(4895,1.00),(4898,0.995),(4901,0.99),(4904,0.995),(4907,0.995),(4910,0.99),(4913,0.985),(4916,0.98),(4918,0.98),(4919,1.08),(4920.5,1.18),(4922.5,1.245),(4924,1.24),(4925.5,1.22),(4927,1.12),(4928,1.035),(4930,1.03),(4932,1.03),(4934,1.02),(4936,1.00),(4938,0.99),(4940,0.985)]

m27_red = [(5020,1.45),(5020.8,1.06),(5021.5,1.03),(5023,1.02),(5025,1.00),(5027,1.01),(5029,0.995),(5031,1.00),(5033,0.99),(5035,1.005),(5037,0.99),(5039,0.985),(5041,0.97),(5043,0.99),(5045,1.01),(5046.5,1.02),(5048,0.995),(5050,1.01),(5052,0.99),(5054,1.00),(5056,0.985),(5058,1.01),(5060,0.995),(5062,0.99),(5064,0.985),(5066,1.00),(5068,0.99),(5070,0.995),(5072,0.985),(5074,0.99),(5076,0.98),(5078,0.99),(5080,0.98),(5082,0.99),(5084,1.00),(5086,0.995),(5088,1.01),(5090,1.00),(5092,1.015),(5094,0.995),(5096,1.01),(5098,1.00),(5100,1.02),(5101.5,1.035),(5103,1.00),(5105,1.01),(5107,1.00),(5109,1.015),(5111,1.00),(5113,1.005),(5115,1.015),(5117,1.01),(5119,1.015),(5121,1.01),(5123,1.015),(5125,1.01),(5127,1.005),(5128.5,1.00),(5129.5,1.50),(5134.5,1.50),(5135.5,1.01),(5137,1.00),(5139,0.995),(5141,1.00),(5143,0.995),(5145,1.00),(5147,0.995),(5149,1.00),(5150.5,1.03),(5152,1.08),(5153,1.11),(5154.5,1.09),(5156,1.05),(5157,1.01),(5159,1.00),(5161,1.02),(5163,1.01),(5165,0.99),(5167,0.975),(5169,0.955),(5171,0.945),(5172,0.94),(5173,0.95),(5174,1.05),(5175.5,1.18),(5177,1.22),(5178,1.255),(5179,1.22),(5180,1.16),(5181,1.19),(5182,1.10),(5183,1.02),(5184,0.97),(5185,0.955),(5187,0.965),(5189,0.985),(5191,1.01),(5193,1.00),(5195,1.03),(5196.5,1.05),(5198,1.075),(5200,1.08),(5202,1.08),(5203.5,1.07),(5204.5,1.02),(5206,0.995),(5208,1.00),(5209,0.99),(5267,0.977),(5268,0.97),(5269,0.966),(5271,0.975),(5273,0.99),(5275,0.985),(5277,1.00),(5279,0.995),(5281,1.005),(5283,1.00),(5285,1.01),(5287,0.995),(5289,1.015),(5291,1.00),(5293,1.005),(5295,0.995),(5297,1.00),(5299,0.99),(5301,1.00),(5303,0.995),(5305,1.00),(5307,1.02),(5309,1.005),(5311,1.01),(5313,1.00),(5315,0.995),(5317,1.005),(5319,1.00),(5321,0.995),(5323,0.99),(5325,0.985),(5326.5,0.975),(5328,1.02),(5330,1.08),(5331.5,1.10),(5333,1.12),(5334.5,1.13),(5335.5,1.50),(5337.5,1.50),(5338.5,1.13),(5339.5,1.28),(5340.5,1.15),(5341.5,1.03),(5343,1.00),(5345,1.005),(5347,0.995),(5349,1.00),(5351,0.995),(5353,1.01),(5355,1.02),(5357,1.00),(5359,1.005),(5361,0.995),(5363,1.00),(5365,0.995),(5367,0.99),(5369,0.985),(5371,0.97),(5373,0.995),(5375,1.00),(5377,0.99),(5379,0.995),(5381,0.985),(5383,0.995),(5385,0.99),(5387,0.995),(5389,0.985),(5391,0.99),(5393,0.985),(5395,0.99),(5397,0.985),(5399,0.98),(5401,0.985),(5403,0.975),(5405,0.96),(5407,0.955),(5409,0.935),(5411,0.92),(5413,0.92),(5415,0.93),(5416.5,0.96),(5418,0.975),(5420,0.985),(5422,0.99),(5424,0.985),(5426,0.995),(5428,0.99),(5430,1.00),(5432,0.99),(5434,0.995),(5436,1.00),(5438,0.995),(5440,1.005),(5442,0.99),(5444,0.995),(5446,0.985),(5448,0.995),(5450,1.00),(5452,0.995),(5454,1.005),(5456,1.00),(5458,1.01),(5460,0.995),(5462,1.005),(5464,1.01),(5466,1.00),(5468,1.005),(5470,0.995),(5472,1.01),(5474,1.00),(5476,0.99),(5478,0.995),(5480,0.985),(5482,0.995),(5484,1.00),(5486,0.995),(5488,1.005),(5490,1.00),(5492,0.995),(5494,1.00),(5496,1.005),(5498,1.00),(5500,1.005),(5502,1.00),(5504,1.005),(5506,0.995),(5508,1.00),(5510,0.99),(5512,1.00),(5513.5,1.01),(5514.5,1.065),(5516,1.07),(5518,1.065),(5520,1.07),(5522,1.065),(5523.5,1.03),(5525,0.995),(5527,0.99),(5529,0.98),(5531,0.99),(5533,0.995),(5535,1.02),(5537,1.055),(5538.5,1.08),(5539.5,1.09),(5541,1.06),(5542,1.04),(5543.5,1.00),(5546,0.995),(5549,1.00),(5552,0.99),(5555,1.00),(5558,0.995),(5561,0.99),(5564,1.00),(5567,0.995),(5570,1.00),(5573,0.99),(5574.5,0.985),(5575.5,1.50),(5583.5,1.50),(5584.5,1.00),(5586,0.99),(5588,0.98),(5590,0.985),(5592,0.975),(5594,0.985),(5596,0.98),(5598,0.99),(5600,0.985),(5602,0.995),(5604,1.00),(5606,0.995),(5608,1.005),(5610,1.01),(5612,1.00),(5614,1.005),(5616,0.995),(5618,1.00),(5620,0.995),(5622,0.99),(5623.5,1.00),(5624.3,1.50),(5626,1.50),(5626.8,1.00),(5628,0.99),(5630,1.00),(5631.5,0.99),(5632.3,1.50),(5634,1.50),(5634.8,0.995),(5636,0.99),(5638,1.00),(5640,1.005),(5642,0.995),(5644,1.00),(5646,0.995),(5648,1.005),(5650,0.995),(5652,1.00),(5654,0.99),(5656,1.00),(5658,0.99),(5660,0.995),(5662,1.00),(5664,1.01),(5666,1.005),(5668,1.01),(5670,1.00),(5672,1.01),(5674,1.005),(5676,1.04),(5678,1.05),(5680,1.07),(5681.5,1.15),(5683,1.205),(5684,1.19),(5685,1.14),(5686.5,1.04),(5688,1.02),(5690,1.02),(5692,1.015),(5694,1.01),(5696,1.00),(5698,0.995),(5700,0.99),(5702,0.985),(5704,0.975),(5706,0.985),(5708,0.99),(5710,0.985),(5712,0.995),(5714,1.00),(5716,0.99),(5718,1.00),(5720,0.995),(5722,1.00),(5724,0.995),(5726,1.00),(5728,1.005),(5730,0.995),(5732,1.00),(5734,0.995),(5736,1.00),(5738,0.995),(5740,1.00),(5742,0.995),(5744,1.00),(5746,0.99),(5748.5,0.99),(5750,1.05),(5751.5,1.11),(5753,1.10),(5755,1.105),(5757,1.09),(5759,1.09),(5760.3,1.00),(5762,0.99),(5764,0.985),(5766,0.99),(5768,0.985),(5770,0.99),(5772,0.98),(5774,0.985),(5776,0.975),(5778,0.96),(5780,0.955),(5782,0.945),(5784,0.95),(5786,0.965),(5788,0.98),(5790,0.985),(5792,0.995),(5794,0.99),(5796,0.985),(5798,0.99),(5800,0.98),(5802,0.985),(5804,0.995),(5806,0.99),(5808,1.00),(5810,0.995),(5812,1.005),(5814,1.00),(5816,1.005),(5818,1.02),(5819,1.07),(5820.5,1.20),(5822,1.34),(5823,1.26),(5823.6,1.15),(5825,1.23),(5826,1.14),(5827,1.10),(5828.5,1.04),(5830,1.005),(5832,1.00),(5834,1.005),(5836,1.00),(5838,0.995),(5840,1.005),(5842,1.00),(5844,0.995),(5846,1.00),(5848,0.995),(5850,0.99),(5852,0.985),(5854,0.99),(5856,0.985),(5858,0.995),(5860,1.00),(5862,1.015),(5864,1.03),(5866,1.04),(5868,1.05),(5869.5,1.06),(5870.5,1.50),(5881.5,1.50),(5882.5,1.05),(5883.6,0.99),(5885,0.98),(5887,1.00),(5888,1.07),(5889,1.125),(5890.5,1.12),(5891.5,1.11),(5893,1.15),(5895,1.19),(5896,1.14),(5897,1.09),(5898,1.07),(5899,1.03),(5900,1.02),(5901.5,1.04),(5903,0.98),(5904,1.01),(5905,1.09),(5906,1.20),(5907,1.50),(5908.5,1.50),(5909.5,1.05),(5910.5,0.975),(5912,0.985),(5914,0.99),(5916,0.98),(5918,0.995),(5920,0.985),(5922,0.995),(5924,0.99),(5926,1.00),(5928,0.995),(5930,1.01),(5932,1.02),(5934,1.005),(5936,1.015),(5938,1.00),(5940,0.99),(5942,0.985),(5944,0.98),(5946,0.99),(5948,1.00),(5950,0.99),(5952,1.00),(5954,1.01),(5956,1.02),(5958,0.995),(5960,0.985),(5962,0.98),(5964,0.99),(5966,0.985),(5968,0.995),(5970,0.99),(5972,1.00),(5974,1.005),(5976,0.995),(5978,1.00),(5980,1.01),(5982,1.015),(5984,1.03),(5985,1.09),(5986,1.12),(5987,1.15),(5988,1.08),(5989,1.00),(5991,0.995),(5993,1.00),(5995,0.99),(5997,1.00),(5999,0.99),(6001,0.995),(6003,0.985),(6005,0.99),(6007,0.985),(6009,0.99),(6011,0.98),(6013,0.99),(6015,0.985),(6017,0.995),(6020,0.99)]

k366_red = [(5020,1.00),(5021.5,1.03),(5023,0.99),(5024.5,1.02),(5026,0.995),(5027.5,1.00),(5029,0.985),(5030.5,1.00),(5032,0.99),(5033.5,0.995),(5035,0.985),(5036.5,1.00),(5038,0.99),(5039.5,1.01),(5041,0.97),(5042.5,0.93),(5044,0.99),(5045.5,1.02),(5047,0.99),(5048.5,1.10),(5050,1.02),(5051.5,0.96),(5053,0.98),(5054.5,1.01),(5056,0.97),(5057,1.06),(5058.5,0.94),(5060,1.03),(5061.5,0.96),(5063,0.97),(5064.5,0.99),(5066,0.97),(5067.5,0.98),(5069,0.965),(5070.5,0.99),(5072,0.96),(5073.5,0.99),(5075,0.94),(5076.5,0.97),(5078,0.975),(5079.5,0.99),(5081,0.98),(5082.5,0.965),(5084,0.98),(5085.5,0.97),(5087,0.985),(5088.5,0.97),(5090,0.98),(5091.5,0.965),(5093,0.97),(5094.5,1.05),(5096,0.965),(5097.5,0.985),(5099,0.97),(5100.5,1.00),(5102,0.985),(5103.5,1.00),(5105,0.99),(5106.5,1.005),(5108,0.985),(5109.5,1.01),(5111,0.995),(5112.5,1.02),(5114,1.03),(5115.5,1.00),(5117,1.02),(5118.5,0.98),(5120,1.02),(5121.5,1.01),(5123,0.98),(5124.5,1.00),(5126,0.975),(5127.5,0.995),(5129,0.94),(5130.5,0.99),(5132,1.00),(5133.5,0.98),(5135,1.005),(5136.5,0.99),(5138,1.01),(5139.5,0.985),(5141,1.02),(5142.5,1.00),(5144,1.015),(5145.5,0.99),(5147,1.04),(5148.5,0.99),(5150,0.98),(5151,0.96),(5152.5,1.03),(5154,0.99),(5155.5,1.005),(5157,0.985),(5158.5,1.01),(5160,0.985),(5161.5,1.00),(5163,0.99),(5164.5,0.98),(5166,0.99),(5167.5,0.95),(5169,0.92),(5170.5,0.95),(5172,0.94),(5173.5,0.98),(5175,1.01),(5176.5,1.02),(5178,0.98),(5179,0.93),(5180.5,0.96),(5182,0.98),(5183.5,0.95),(5185,0.905),(5186,0.88),(5187.5,0.96),(5189,0.99),(5190.5,1.03),(5192,1.02),(5193.5,1.00),(5195,1.04),(5196.5,1.05),(5198,1.08),(5199.5,1.11),(5201,1.09),(5202.5,1.07),(5204,1.02),(5205.5,1.00),(5207,0.97),(5208.5,0.98),(5210,0.96),(5211.5,0.99),(5213,0.97),(5214.5,1.00),(5216,0.99),(5217.5,1.01),(5219,0.98),(5220.5,1.02),(5222,0.995),(5223.5,0.98),(5225,1.00),(5226.5,0.99),(5228,0.985),(5229.5,0.94),(5231,0.98),(5232.5,1.00),(5234,0.995),(5235.5,1.01),(5237,0.985),(5238.5,1.00),(5240,0.99),(5241.5,1.01),(5243,0.98),(5244.5,1.005),(5246,0.99),(5247.5,1.00),(5249,0.985),(5250.5,1.01),(5252,0.99),(5253.5,0.995),(5255,0.98),(5256.5,1.00),(5258,0.99),(5259.5,1.005),(5261,0.98),(5262.5,1.02),(5264,0.99),(5265.5,0.93),(5267,0.97),(5268.5,1.01),(5270,1.04),(5271.5,1.00),(5273,0.98),(5274.5,0.97),(5276,1.00),(5277.5,0.985),(5279,1.00),(5280.5,0.99),(5282,1.01),(5283.5,0.98),(5285,1.00),(5286.5,0.99),(5288,1.005),(5289.5,0.985),(5291,1.00),(5292.5,0.99),(5294,1.02),(5295.5,1.00),(5297,0.985),(5298.5,1.01),(5300,0.99),(5301.5,1.00),(5303,0.98),(5304.5,1.01),(5306,0.99),(5307.5,1.02),(5309,0.99),(5310.5,1.00),(5312,0.975),(5313.5,1.01),(5315,0.98),(5316.5,1.02),(5318,0.99),(5319.5,0.97),(5321,1.00),(5322.5,0.98),(5324,0.985),(5325.5,0.95),(5327,0.97),(5328.5,0.92),(5330,0.99),(5331.5,1.00),(5333,1.02),(5334.5,0.99),(5336,0.97),(5337.5,1.00),(5339,0.98),(5340.5,0.95),(5342,0.99),(5343.5,1.02),(5345,0.98),(5346.5,1.00),(5348,0.97),(5349.5,0.975),(5351,1.00),(5352.5,0.985),(5354,1.01),(5355.5,0.98),(5357,1.02),(5358.5,1.045),(5360,0.99),(5361.5,1.01),(5363,0.98),(5364.5,1.00),(5366,0.99),(5367.5,1.02),(5369,1.00),(5370.5,0.97),(5372,0.95),(5373.5,0.92),(5375,0.99),(5376.5,1.01),(5378,1.00),(5379.5,0.985),(5381,1.01),(5382.5,0.99),(5384,1.02),(5385.5,1.03),(5387,0.99),(5388.5,1.01),(5390,0.985),(5391.5,1.00),(5393,0.99),(5394.5,0.98),(5396,0.995),(5397.5,0.98),(5399,0.99),(5400.5,0.97),(5402,0.985),(5403.5,0.98),(5405,0.96),(5406.5,0.97),(5408,0.945),(5409.5,0.95),(5411,0.925),(5412.5,0.935),(5414,0.875),(5415,0.91),(5416.5,0.995),(5418,0.99),(5419.5,1.01),(5421,0.99),(5422.5,1.01),(5424,0.98),(5425.5,1.01),(5427,0.985),(5428.5,1.00),(5430,0.975),(5431.5,1.00),(5433,1.01),(5434.5,0.97),(5436,0.99),(5437.5,0.96),(5439,0.975),(5440.5,1.00),(5442,0.985),(5443.5,1.02),(5445,1.035),(5446.5,0.985),(5448,0.97),(5449.5,0.94),(5451,0.98),(5452.5,1.01),(5454,0.99),(5455.5,1.00),(5457,0.985),(5458.5,1.00),(5460,1.01),(5461.5,0.985),(5463,1.005),(5464.5,0.98),(5466,1.00),(5467.5,0.985),(5469,0.97),(5470.5,1.01),(5472,1.02),(5473.5,1.04),(5475,0.995),(5476.5,1.01),(5478,0.98),(5479.5,0.97),(5481,1.00),(5482.5,1.02),(5484,0.99),(5485.5,1.00),(5487,0.985),(5488.5,1.01),(5490,0.995),(5491.5,1.02),(5493,0.98),(5494.5,0.99),(5496,1.03),(5497.5,1.04),(5499,1.00),(5500.5,1.02),(5502,0.985),(5503.5,0.97),(5505,1.00),(5506.5,0.99),(5508,1.01),(5509.5,0.97),(5511,1.00),(5512.5,0.99),(5514,1.00),(5515.5,1.03),(5517,1.06),(5518.5,1.12),(5519.5,1.155),(5520.5,1.10),(5522,1.04),(5523.5,0.99),(5525,1.00),(5526.5,0.97),(5528,0.96),(5529.5,0.94),(5531,0.97),(5532.5,1.01),(5534,1.02),(5535.5,0.98),(5537,1.03),(5538.5,1.12),(5539.7,1.22),(5541,1.08),(5542,1.02),(5543.5,0.98),(5545,1.01),(5546.5,0.99),(5548,1.00),(5549.5,0.985),(5551,1.01),(5552.5,0.98),(5554,1.02),(5555.5,0.99),(5557,0.975),(5558.5,1.00),(5560,0.995),(5561.5,1.01),(5563,0.98),(5564.5,1.01),(5566,1.00),(5567.5,0.98),(5569,1.01),(5570.5,0.985),(5572,1.02),(5573.5,0.975),(5575,1.00),(5576,0.94),(5577,1.10),(5578,1.50),(5582,1.50),(5583,0.98),(5584,0.93),(5585,1.00),(5586.5,1.01),(5588,0.99),(5589.5,1.00),(5591,0.98),(5592.5,0.97),(5594,0.95),(5595.5,0.92),(5597,0.95),(5598.5,0.975),(5600,1.00),(5601.5,0.99),(5603,0.98),(5604.5,1.00),(5606,0.99),(5607.5,1.01),(5609,1.00),(5610.5,1.02),(5612,0.985),(5613.5,1.01),(5615,1.04),(5616.5,0.99),(5618,1.02),(5619.5,0.99),(5621,0.985),(5622.5,1.00),(5624,1.02),(5625.5,1.01),(5627,0.98),(5628.5,1.00),(5630,0.985),(5631.5,1.01),(5633,0.99),(5634.5,1.00),(5636,0.985),(5637.5,1.00),(5639,0.99),(5640.5,1.005),(5642,0.98),(5643.5,0.995),(5645,0.99),(5646.5,1.00),(5648,0.98),(5649.5,1.00),(5651,0.99),(5652.5,1.01),(5654,0.98),(5655.5,0.995),(5657,0.99),(5658.5,1.00),(5660,0.98),(5661.5,1.00),(5663,0.99),(5664.5,1.01),(5666,0.995),(5667.5,1.02),(5669,0.985),(5670.5,1.00),(5672,1.01),(5673.5,0.985),(5675,1.02),(5676.5,0.99),(5678,1.00),(5679.5,0.975),(5681,1.01),(5682.5,0.99),(5684,1.02),(5685.5,0.985),(5687,1.00),(5688.5,0.98),(5690,1.01),(5691.5,0.99),(5693,0.975),(5694.5,1.04),(5696,1.12),(5697,1.22),(5698,1.275),(5699,1.18),(5700,1.04),(5701.5,0.99),(5703,0.985),(5704.5,1.00),(5706,0.97),(5707.5,0.955),(5709,0.98),(5710.5,1.00),(5712,0.99),(5713.5,1.00),(5715,0.985),(5716.5,1.005),(5718,0.99),(5719.5,1.00),(5721,0.985),(5722.5,1.005),(5724,0.99),(5725.5,1.01),(5727,0.985),(5728.5,1.00),(5730,0.99),(5731.5,0.97),(5733,0.94),(5734.5,0.97),(5736,1.00),(5737.5,0.985),(5739,1.02),(5740.5,0.99),(5742,1.00),(5743.5,0.98),(5745,1.00),(5746.5,0.99),(5748,1.01),(5749.5,0.985),(5751,1.01),(5752,0.96),(5753.5,1.10),(5754.5,1.50),(5759,1.50),(5760,1.05),(5761,1.01),(5762.5,0.99),(5764,0.97),(5765.5,0.945),(5767,0.98),(5768.5,1.00),(5770,1.02),(5771.5,0.99),(5773,1.01),(5774.5,0.97),(5776,0.98),(5777.5,0.96),(5779,0.97),(5780.5,0.95),(5782,0.93),(5783.5,0.91),(5785,0.89),(5786.5,0.95),(5788,0.99),(5789.5,1.00),(5791,0.985),(5792.5,1.01),(5794,1.00),(5795.5,0.98),(5797,0.97),(5798.5,0.95),(5800,0.93),(5801.5,0.90),(5803,0.92),(5804.5,0.90),(5806,0.95),(5807.5,1.00),(5809,0.98),(5810.5,0.97),(5812,0.95),(5813.5,0.93),(5815,0.91),(5816.5,0.96),(5818,1.00),(5819.5,1.005),(5821,0.99),(5822.5,1.00),(5824,1.02),(5825.5,0.99),(5827,1.00),(5828.5,0.985),(5830,1.00),(5831.5,0.99),(5833,1.01),(5834.5,0.985),(5836,1.01),(5837.5,0.99),(5839,1.00),(5840.5,0.985),(5842,0.99),(5843.5,1.01),(5845,1.00),(5846.5,0.98),(5848,1.02),(5849.5,1.00),(5851,0.98),(5852.5,1.00),(5854,0.97),(5855.5,0.95),(5857,0.94),(5858.5,0.98),(5860,1.00),(5861.5,0.99),(5863,1.01),(5864.5,0.99),(5866,1.03),(5867.5,1.05),(5869,1.07),(5870.5,1.03),(5872,1.06),(5873.5,1.08),(5874.5,1.50),(5880,1.50),(5881,1.04),(5882.5,1.00),(5884,1.01),(5885.5,0.975),(5887,1.06),(5888.5,1.14),(5889.5,1.20),(5890.5,1.27),(5891.5,1.15),(5892.5,1.02),(5893.5,0.93),(5895,1.05),(5896.5,1.16),(5897.5,1.20),(5898.5,1.10),(5900,1.00),(5901.5,0.98),(5903,0.945),(5904.5,0.97),(5906,1.00),(5907.5,1.01),(5909,0.99),(5910.5,1.00),(5912,0.985),(5913.5,1.01),(5915,0.99),(5916.5,1.00),(5918,0.985),(5919.5,1.01),(5921,1.00),(5922.5,0.99),(5924,1.00),(5925.5,1.02),(5927,0.995),(5928.5,1.01),(5930,0.99),(5931.5,1.02),(5933,1.00),(5934.5,1.03),(5936,1.045),(5937.5,1.00),(5939,0.99),(5940.5,1.01),(5942,0.99),(5943.5,0.98),(5945,1.00),(5946.5,0.99),(5948,1.00),(5949.5,0.98),(5951,0.975),(5952.5,0.97),(5954,1.00),(5955.5,1.02),(5957,1.00),(5958.5,1.04),(5960,0.99),(5961.5,1.00),(5963,0.98),(5964.5,1.01),(5966,0.99),(5967.5,1.02),(5969,0.985),(5970.5,1.00),(5972,0.98),(5973.5,1.01),(5975,0.99),(5976.5,1.00),(5978,0.98),(5979.5,1.02),(5981,1.04),(5982.5,0.99),(5984,0.97),(5985.5,0.93),(5987,0.97),(5988.5,1.01),(5990,0.98),(5991.5,1.00),(5993,0.985),(5994.5,1.005),(5996,0.98),(5997.5,1.00),(5999,0.97),(6000.5,0.99),(6002,0.985),(6003.5,1.00),(6005,0.98),(6006.5,1.01),(6008,0.99),(6009.5,0.98),(6011,1.00),(6012.5,0.975),(6014,0.99),(6015.5,0.97),(6017,0.985),(6018.5,0.96),(6020,0.97)]

he2123_red = [(5020,1.125),(5021,1.10),(5022,1.11),(5023,1.07),(5024,1.10),(5025,1.11),(5026,1.04),(5027,1.09),(5028,1.01),(5029,1.05),(5030,0.97),(5031,1.04),(5032,1.02),(5033,0.98),(5034.5,0.95),(5035.5,1.03),(5036.5,1.06),(5037.5,0.99),(5038.5,0.97),(5039.3,1.10),(5040,1.19),(5041,1.16),(5042,1.10),(5043,1.02),(5044,1.16),(5045,1.09),(5046,1.30),(5047,1.24),(5048,1.22),(5049,1.10),(5050,1.03),(5051,1.01),(5052,0.97),(5053,0.96),(5054,1.13),(5055,1.14),(5056.5,1.14),(5057.5,1.04),(5058.5,1.01),(5059.5,0.95),(5060.5,0.99),(5061.5,0.96),(5062.5,0.92),(5063.5,0.98),(5065,1.02),(5066,0.96),(5067,1.03),(5068,0.97),(5069.5,1.00),(5070.5,0.95),(5071.5,1.04),(5072.5,0.98),(5073.5,1.02),(5075,1.045),(5076,0.97),(5077,1.02),(5078,0.96),(5079,1.00),(5080,0.97),(5081,1.01),(5082,1.00),(5083,1.12),(5084.5,1.20),(5085.5,1.26),(5086.5,1.18),(5087.5,1.12),(5088.5,1.02),(5089.5,0.98),(5090.5,1.01),(5091.5,0.99),(5093,1.00),(5094,0.98),(5095,1.02),(5096,0.99),(5097,1.01),(5098,0.98),(5099,1.00),(5100,1.12),(5101,1.15),(5102,1.13),(5103,1.10),(5104,1.02),(5105,1.00),(5106,0.96),(5107,0.95),(5108,0.99),(5109,0.92),(5110,0.95),(5111,0.93),(5112,0.96),(5113,0.92),(5114,0.97),(5115,0.95),(5116,0.94),(5117,1.01),(5118,1.04),(5119,0.99),(5120,1.03),(5121,0.98),(5122,1.02),(5123,0.99),(5124,1.03),(5125,0.97),(5126,1.01),(5127,0.98),(5128,1.02),(5129,0.99),(5130,1.03),(5131,0.97),(5132,1.02),(5133,0.98),(5134,1.01),(5135,0.96),(5136,1.02),(5137,0.98),(5138,1.04),(5139,0.99),(5140,1.01),(5141,0.97),(5142,1.03),(5143,0.98),(5144,1.02),(5145,0.96),(5146,1.04),(5147,0.99),(5148,1.01),(5149,0.97),(5150,1.02),(5151,0.99),(5152,0.98),(5153,0.96),(5154,0.99),(5155,0.95),(5156,0.98),(5157,0.96),(5158,1.00),(5159,0.97),(5160,0.95),(5161,0.98),(5162,0.94),(5163,0.96),(5164,0.93),(5165,0.97),(5166,0.96),(5167,0.99),(5168,0.98),(5169,1.01),(5170,0.99),(5171,1.03),(5172,1.00),(5173,1.04),(5174,1.01),(5175,1.05),(5176,1.02),(5177,1.07),(5178,1.03),(5179,1.06),(5180,1.01),(5181,1.04),(5182,0.99),(5183,1.03),(5184,0.97),(5185,1.01),(5186,0.95),(5187,1.00),(5188,0.96),(5189,0.99),(5190,0.95),(5191,1.00),(5192,0.96),(5193,0.99),(5194,0.94),(5195,0.94),(5195.7,1.20),(5196.5,1.39),(5197.5,1.42),(5198.5,1.40),(5199.5,1.28),(5200.5,1.20),(5201.5,1.10),(5202.5,1.00),(5203.5,0.99),(5204.5,1.02),(5205.5,0.98),(5206,1.01),(5208,0.97),(5210,1.02),(5212,0.98),(5214,1.03),(5216,0.97),(5218,1.01),(5220,0.96),(5222,1.02),(5224,0.99),(5226,1.03),(5228,0.97),(5230,1.00),(5232,0.96),(5234,1.02),(5236,0.98),(5238,1.01),(5240,0.97),(5242,1.03),(5244,0.98),(5246,1.00),(5248,0.95),(5250,1.01),(5252,0.97),(5254,1.02),(5256,0.96),(5258,1.00),(5260,0.97),(5262,1.02),(5264,0.98),(5266,1.01),(5268,1.03),(5270,1.045),(5272,1.00),(5274,1.03),(5276,0.97),(5278,1.01),(5280,0.96),(5282,1.02),(5284,0.98),(5286,1.03),(5288,0.97),(5290,1.01),(5292,0.96),(5294,1.02),(5296,0.97),(5298,1.00),(5300,0.95),(5302,1.01),(5304,0.92),(5306,0.99),(5308,1.02),(5310,0.97),(5312,1.01),(5314,0.96),(5316,1.03),(5318,0.98),(5320,1.02),(5322,0.96),(5324,1.01),(5326,0.97),(5328,1.03),(5330,0.98),(5332,1.02),(5334,0.96),(5336,1.01),(5338,0.97),(5340,1.03),(5342,1.06),(5344,1.00),(5346,1.03),(5348,0.97),(5350,1.01),(5352,0.96),(5354,1.02),(5356,0.97),(5358,1.01),(5360,0.95),(5362,1.02),(5364,0.98),(5366,1.01),(5368,0.96),(5370,1.02),(5372,0.97),(5374,1.03),(5376,0.98),(5378,1.01),(5380,0.96),(5382,1.02),(5384,0.97),(5386,1.00),(5388,0.95),(5390,1.02),(5392,0.98),(5394,1.01),(5396,0.96),(5398,1.00),(5400,0.95),(5402,1.01),(5404,0.97),(5406,1.02),(5408,0.96),(5410,1.00),(5412,0.97),(5414,1.02),(5416,0.98),(5418,1.03),(5420,0.97),(5422,1.01),(5424,0.98),(5426,1.04),(5428,0.97),(5430,1.02),(5432,0.98),(5434,1.01),(5436,0.96),(5438,1.00),(5440,0.97),(5442,1.02),(5444,0.96),(5446,1.00),(5448,0.94),(5450,1.02),(5452,1.06),(5454,1.00),(5456,0.97),(5458,1.02),(5460,0.96),(5462,1.01),(5464,0.97),(5466,1.02),(5468,0.96),(5470,1.00),(5472,0.95),(5474,1.01),(5476,0.97),(5478,1.02),(5480,0.96),(5482,1.00),(5484,0.97),(5486,1.00),(5487.5,0.91),(5489,0.98),(5490,1.02),(5491.5,1.04),(5493,1.06),(5494,1.19),(5495,1.15),(5496,1.17),(5497,1.18),(5498,1.13),(5499,1.16),(5500,1.14)]

h248_red = [(5020,1.45),(5021,1.45),(5021.8,1.04),(5023,1.03),(5025,1.025),(5027,1.005),(5030,1.00),(5033,1.00),(5036,0.995),(5038,0.99),(5040,1.01),(5042,1.02),(5044,1.03),(5046,1.055),(5048.5,1.04),(5050,1.04),(5052,1.03),(5054,1.03),(5056,1.055),(5058,1.05),(5060,1.04),(5061.5,1.03),(5063,0.99),(5066,0.99),(5069,0.995),(5072,0.99),(5075,1.00),(5078,1.00),(5081,1.01),(5083,1.02),(5085,1.015),(5087,1.025),(5089,1.015),(5091,1.00),(5093,1.005),(5094.5,1.01),(5095.5,0.94),(5096.5,1.005),(5098,1.00),(5101,0.995),(5104,1.00),(5107,0.995),(5110,1.005),(5112,1.01),(5114,1.00),(5117,0.995),(5120,1.00),(5123,0.995),(5126,1.00),(5129,0.995),(5132,1.00),(5134,1.01),(5136,1.00),(5139,0.995),(5142,1.00),(5145,1.00),(5147,1.02),(5149,1.025),(5151,1.02),(5153,0.995),(5156,0.995),(5158,1.01),(5160,1.055),(5162,1.05),(5164,1.04),(5166,0.995),(5169,1.00),(5172,0.995),(5175,1.00),(5178,0.995),(5181,1.00),(5184,0.995),(5186,1.00),(5189,1.01),(5191,1.02),(5193,1.035),(5195,1.05),(5197,1.06),(5199,1.065),(5201,1.06),(5203,1.04),(5205,1.015),(5207.5,1.005),(5265.5,1.025),(5267,1.02),(5268.5,1.05),(5269.5,1.50),(5275,1.50),(5276,1.05),(5277,1.02),(5279,1.005),(5282,1.00),(5285,0.995),(5288,1.00),(5291,0.995),(5293,1.00),(5295,1.015),(5297,1.02),(5299,1.025),(5301,1.025),(5303,1.01),(5305,0.998),(5308,1.00),(5311,0.995),(5314,1.00),(5317,0.995),(5320,1.00),(5323,0.995),(5326,1.00),(5329,0.995),(5332,1.00),(5334,1.02),(5336,1.01),(5338,1.00),(5341,0.995),(5344,1.00),(5347,0.995),(5350,1.00),(5353,0.995),(5356,1.00),(5359,0.995),(5362,1.00),(5365,0.995),(5368,1.00),(5371,0.995),(5374,1.005),(5376,1.01),(5379,1.01),(5381,1.005),(5384,0.995),(5387,1.00),(5390,0.995),(5393,1.00),(5396,0.995),(5399,1.00),(5402,0.995),(5405,1.00),(5407,0.99),(5409,0.98),(5410.5,0.975),(5412,0.985),(5414,0.99),(5416,0.985),(5418,1.00),(5421,1.005),(5424,1.01),(5427,1.005),(5430,1.01),(5433,1.005),(5436,1.01),(5439,1.005),(5442,1.00),(5445,0.995),(5448,0.99),(5451,0.995),(5454,1.00),(5457,0.995),(5460,1.00),(5463,0.995),(5466,1.00),(5469,0.995),(5472,1.00),(5475,0.995),(5478,1.00),(5481,0.995),(5484,1.00),(5487,0.995),(5490,1.00),(5493,0.995),(5496,1.00),(5499,0.995),(5502,1.00),(5505,0.995),(5507.5,1.00),(5509,1.01),(5510.5,1.025),(5512,1.035),(5513.5,1.045),(5515,1.06),(5516.5,1.065),(5518,1.06),(5519.5,1.045),(5521,1.03),(5522.5,1.015),(5524,1.015),(5526,1.005),(5528,1.00),(5530,1.01),(5531.5,1.01),(5533,1.00),(5534,1.05),(5535,1.13),(5536.5,1.15),(5538.5,1.15),(5540,1.14),(5541,1.07),(5542,1.02),(5543.5,0.99),(5545,0.995),(5547,1.00),(5549,1.00),(5551,1.01),(5552.5,1.025),(5554,1.02),(5556,1.01),(5558,1.005),(5560,1.00),(5563,1.00),(5566,0.995),(5569,1.00),(5572,1.00),(5573.5,1.02),(5575,1.025),(5577,1.02),(5579,1.02),(5581,1.015),(5583,1.01),(5585,1.00),(5587,0.99),(5589,0.97),(5591,0.96),(5592.5,0.96),(5594,0.965),(5595.5,0.98),(5597,0.99),(5599,1.00),(5602,0.998),(5605,1.00),(5608,0.995),(5611,1.00),(5614,0.995),(5617,1.00),(5620,0.995),(5623,1.00),(5626,0.995),(5629,1.00),(5632,0.995),(5635,1.00),(5638,0.995),(5641,1.00),(5644,0.995),(5647,1.00),(5650,0.995),(5653,1.00),(5656,0.995),(5659,1.00),(5662,1.005),(5664,1.01),(5667,1.005),(5670,1.00),(5673,1.00),(5675,1.01),(5676.5,1.02),(5678.5,1.02),(5680,1.01),(5682,1.005),(5685,1.00),(5688,0.998),(5690.5,1.005),(5692,1.04),(5694,1.055),(5696,1.055),(5698,1.04),(5700,1.01),(5701.5,0.995),(5703,0.995),(5705.3,0.99),(5708,0.995),(5711,1.00),(5714,1.005),(5717,1.00),(5720,0.995),(5723,1.00),(5726,0.995),(5729,1.00),(5732,0.995),(5735,1.00),(5738,0.998),(5741,1.00),(5744,1.005),(5747,1.005),(5748.5,1.01),(5749.5,1.50),(5758.5,1.50),(5759.5,1.01),(5761,1.005),(5764,1.00),(5767,0.995),(5770,0.995),(5773,0.99),(5775,0.985),(5777,0.975),(5778.5,0.97),(5780,0.975),(5782,0.985),(5784,0.99),(5786,0.995),(5788,0.995),(5790,1.00),(5792,0.995),(5794,0.995),(5796,0.99),(5798,0.98),(5799.5,0.97),(5801,0.975),(5803,0.985),(5805,0.995),(5806.5,0.995),(5808,0.99),(5809.5,0.985),(5811,0.99),(5813,0.995),(5815,1.00),(5818,1.00),(5821,1.005),(5824,1.00),(5827,1.005),(5830,1.00),(5833,1.005),(5836,1.00),(5839,0.998),(5842,1.00),(5845,0.995),(5848,1.00),(5851,0.998),(5854,1.00),(5857,1.005),(5860,1.01),(5863,1.015),(5865.5,1.02),(5867.3,1.02),(5868.5,1.50),(5878,1.50),(5879,1.03),(5880.5,1.02),(5882,1.00),(5883.6,0.995),(5885,0.97),(5886.6,0.94),(5888,0.94),(5889.5,0.935),(5890.3,0.925),(5891,0.90),(5892,0.92),(5893,0.925),(5894,0.935),(5896,0.96),(5898.5,0.99),(5901.5,1.00),(5904,0.998),(5907,1.00),(5910,0.995),(5913,1.00),(5916,0.995),(5919,1.00),(5922,1.01),(5925,1.02),(5928,1.02),(5931,1.015),(5934,1.02),(5937,1.02),(5940,1.01),(5943,0.998),(5946,1.00),(5949,1.00),(5951,1.02),(5952.5,1.045),(5954.5,1.055),(5956.5,1.055),(5958,1.045),(5959.5,1.02),(5961,1.00),(5964,1.00),(5967,1.00),(5970,1.00),(5972,1.005),(5974,1.025),(5976,1.025),(5978,1.02),(5980,1.005),(5982,1.00),(5985,0.998),(5988,0.995),(5990.5,1.005),(5993,1.01),(5995,1.015),(5997,1.015),(5999,1.005),(6001,1.00),(6004,0.998),(6007,1.00),(6010,1.00),(6013,0.998),(6016,1.00),(6020,1.00)]

# object names, line identifications (dotted markers) and marked bands
names = ['M  2\u22127', 'K  3\u221266', 'He  2\u2212123', 'H  2\u221248']
blue_spectra = [m27_blue, k366_blue, he2123_blue, h248_blue]
red_spectra = [m27_red, k366_red, he2123_red, h248_red]

blue_lines_short = [4100, 4340, 4541, 4604, 4620, 4686, 4860, 4922]
blue_lines_long = [4100, 4200, 4340, 4541, 4604, 4620, 4686, 4860, 4922]
blue_lines = [blue_lines_short, blue_lines_long, blue_lines_long, blue_lines_short]
blue_bands = [(4154, 4207), None, (4400, 4428), (4142, 4197)]

red_lines_all = [5112, 5290, 5412, 5592, 5696, 5801, 5812]
red_lines = [red_lines_all, red_lines_all, [5112, 5290, 5412], red_lines_all]
red_bands = [(5207, 5269), None, None, (5207, 5258)]

label_y = [1.27, 1.27, 1.25, 1.25]

plt.rcParams['font.family'] = 'DejaVu Serif'

W, H = 1200, 1603
fig = plt.figure(figsize=(W / 100, H / 100), dpi=100)

LEFT, RIGHT = 78, 1199
PANEL_H = 171.7
FRAME = '0.4'


def make_group(top_px, spectra, lines, bands, xlim, label_x):
    axes = []
    for i in range(4):
        t = top_px + i * PANEL_H
        ax = fig.add_axes([LEFT / W, 1 - (t + PANEL_H) / H, (RIGHT - LEFT) / W, PANEL_H / H])
        wl = [p[0] for p in spectra[i]]
        fl = [p[1] for p in spectra[i]]
        ax.plot(wl, fl, color='k', lw=0.8)
        ax.vlines(lines[i], 1.11, 1.30, colors='0.45', linestyles=(0, (1, 1.6)), lw=0.9)
        if bands[i] is not None:
            ax.hlines(1.30, bands[i][0], bands[i][1], colors='0.45', linestyles=(0, (1, 3.5)), lw=0.9)
        ax.text(label_x, label_y[i], names[i], fontsize=14.5, va='center', ha='left')

        ax.set_xlim(*xlim)
        ax.set_ylim(0.81, 1.39)
        ax.yaxis.set_major_locator(FixedLocator([0.9, 1.0, 1.1, 1.2, 1.3]))
        ax.yaxis.set_major_formatter(FuncFormatter(lambda v, _: '%g' % round(v, 2)))
        ax.tick_params(axis='y', which='major', direction='in', left=True, right=True,
                       length=9, width=0.9, color=FRAME, labelsize=13.5, pad=11)
        for s in ax.spines.values():
            s.set_color(FRAME)
            s.set_linewidth(1.0)

        if i == 3:
            start = int(xlim[0] // 100 + 1) * 100
            majors = list(range(start, int(xlim[1]) + 1, 100))
            minors = [m + 50 for m in range(start - 100, int(xlim[1]), 100)]
            ax.xaxis.set_major_locator(FixedLocator(majors))
            ax.xaxis.set_minor_locator(FixedLocator(minors))
            ax.tick_params(axis='x', which='both', direction='in', top=True, bottom=True,
                           length=5, width=0.9, color=FRAME)
            ax.tick_params(axis='x', which='major', labelsize=13.5, pad=8)
        else:
            ax.tick_params(axis='x', which='both', bottom=False, top=False, labelbottom=False)
        axes.append(ax)
    return axes


top_axes = make_group(0.5, blue_spectra, blue_lines, blue_bands, (4000, 4940), 4368)
bottom_axes = make_group(862.3, red_spectra, red_lines, red_bands, (5020, 6020), 5450)

# axis titles
fig.text((LEFT + RIGHT) / 2 / W, 1 - 728 / H, 'wavelength [\u00c5]', fontsize=14.5, ha='center', va='center')
fig.text((LEFT + RIGHT) / 2 / W, 1 - 1590 / H, 'wavelength [\u00c5]', fontsize=14.5, ha='center', va='center')
fig.text(9 / W, 1 - 258 / H, 'normalized  flux', fontsize=14.5, rotation=90, ha='center', va='center')
fig.text(9 / W, 1 - 1119 / H, 'normalized  flux', fontsize=14.5, rotation=90, ha='center', va='center')

fig.savefig('out.png', dpi=100)
